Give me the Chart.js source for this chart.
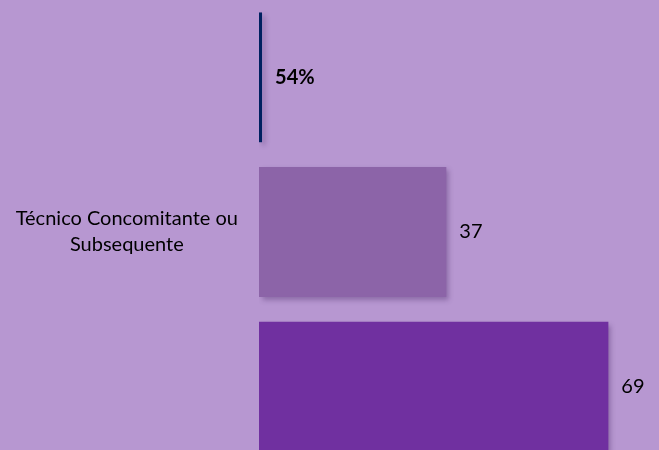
<!DOCTYPE html>
<html>
<head>
<meta charset="utf-8">
<script src="https://cdn.jsdelivr.net/npm/chart.js"></script>
<style>
  html, body { margin: 0; padding: 0; background: #B797D1; overflow: hidden; width: 659px; height: 450px; }
  canvas { display: block; margin-top: -34px; }
</style>
</head>
<body>
<canvas id="barChart" width="659" height="532"></canvas>
<script>
const categories = ['', ['Técnico Concomitante ou', 'Subsequente'], ''];
const values = [0.6, 37, 69];
const valueLabels = ['54%', '37', '69'];
const barColors = ['#002060', '#8C64A8', '#7030A0'];

const fontFamily = 'Lato, "Open Sans", sans-serif';

// soft drop shadow like the office chart
const shadowPlugin = {
    id: 'barShadow',
    beforeDatasetsDraw(chart) {
        const ctx = chart.ctx;
        ctx.save();
        ctx.shadowColor = 'rgba(60, 30, 90, 0.35)';
        ctx.shadowBlur = 5;
        ctx.shadowOffsetX = 3;
        ctx.shadowOffsetY = 3;
    },
    afterDatasetsDraw(chart) {
        chart.ctx.restore();
    }
};

const valueLabelPlugin = {
    id: 'valueLabels',
    afterDatasetsDraw(chart) {
        const ctx = chart.ctx;
        const meta = chart.getDatasetMeta(0);
        ctx.save();
        ctx.fillStyle = '#000000';
        ctx.textAlign = 'left';
        ctx.textBaseline = 'middle';
        meta.data.forEach((bar, i) => {
            ctx.font = (i === 0 ? 'bold ' : '') + '20px ' + fontFamily;
            ctx.fillText(valueLabels[i], bar.x + 13, bar.y);
        });
        ctx.restore();
    }
};

const ctx = document.getElementById('barChart').getContext('2d');
new Chart(ctx, {
    type: 'bar',
    data: {
        labels: categories,
        datasets: [{
            data: values,
            backgroundColor: barColors,
            borderWidth: 0,
            barPercentage: 1,
            categoryPercentage: 0.839
        }]
    },
    options: {
        indexAxis: 'y',
        responsive: false,
        animation: false,
        layout: { padding: 0 },
        plugins: {
            legend: { display: false },
            tooltip: { enabled: false }
        },
        scales: {
            x: {
                display: false,
                min: 0,
                max: 79
            },
            y: {
                grid: { display: false, drawTicks: false },
                border: { display: false },
                ticks: {
                    color: '#000000',
                    font: { family: fontFamily, size: 20, lineHeight: 1.3 },
                    crossAlign: 'center',
                    padding: 21
                },
                afterFit(axis) {
                    axis.width = 259;
                }
            }
        }
    },
    plugins: [shadowPlugin, valueLabelPlugin]
});
</script>
</body>
</html>
